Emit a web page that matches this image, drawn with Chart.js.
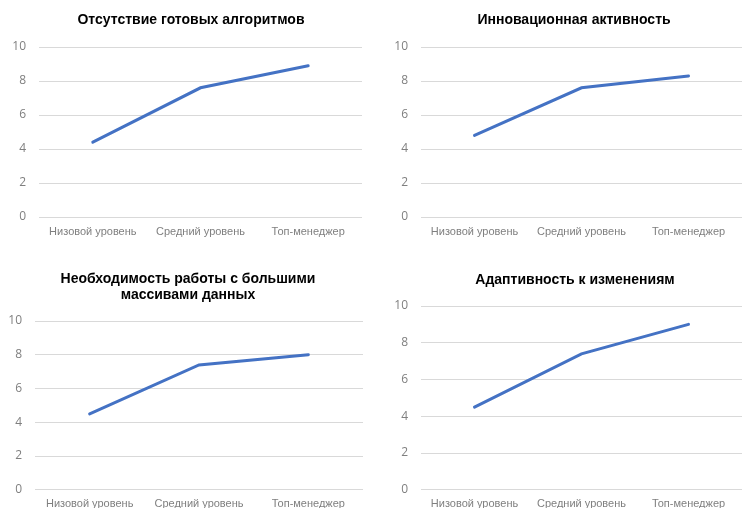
<!DOCTYPE html>
<html>
<head>
<meta charset="utf-8">
<script src="https://cdn.jsdelivr.net/npm/chart.js@4/dist/chart.umd.min.js"></script>
<style>
  body { margin: 0; background: #fff; }
  #wrap { position: relative; width: 742px; height: 508px; overflow: hidden; }
  .box { position: absolute; }
</style>
</head>
<body>
<div id="wrap">
  <div class="box" id="b1" style="left:0;top:0;width:371px;height:250px"><canvas id="c1"></canvas></div>
  <div class="box" id="b2" style="left:371px;top:0;width:371px;height:250px"><canvas id="c2"></canvas></div>
  <div class="box" id="b3" style="left:0;top:254px;width:371px;height:256px"><canvas id="c3"></canvas></div>
  <div class="box" id="b4" style="left:371px;top:254px;width:371px;height:256px"><canvas id="c4"></canvas></div>
</div>
<script>
const levels = ['Низовой уровень', 'Средний уровень', 'Топ-менеджер'];
const yTicks = [0, 2, 4, 6, 8, 10];

const titles = [
  ['Отсутствие готовых алгоритмов'],
  ['Инновационная активность'],
  ['Необходимость работы с большими', 'массивами данных'],
  ['Адаптивность к изменениям']
];

const noAlgorithms = [4.4, 7.6, 8.9];
const innovation = [4.8, 7.6, 8.3];
const bigData = [4.5, 7.4, 8.0];
const adaptivity = [4.5, 7.4, 9.0];

const seriesList = [noAlgorithms, innovation, bigData, adaptivity];

// layout per panel (title centre in canvas px, paddings, axis sizes)
const panels = [
  { id: 'c1', tx: 191, ty: 20, top: 47, yWidth: 39, right: 9, xHeight: 22, bottom: 11 },
  { id: 'c2', tx: 203, ty: 20, top: 47, yWidth: 50, right: 0, xHeight: 22, bottom: 11 },
  { id: 'c3', tx: 188, ty: 25, top: 67, yWidth: 35, right: 8, xHeight: 19, bottom: 0 },
  { id: 'c4', tx: 204, ty: 26, top: 52, yWidth: 50, right: 0, xHeight: 19, bottom: 0 }
];

// the built-in title can only centre over the whole box, so draw it here
const panelTitle = {
  id: 'panelTitle',
  afterDraw(chart, args, opts) {
    const c = chart.ctx;
    c.save();
    c.font = 'bold 14px "Liberation Sans", Arial, sans-serif';
    c.fillStyle = '#000';
    c.textAlign = 'center';
    c.textBaseline = 'middle';
    opts.lines.forEach((t, k) => c.fillText(t, opts.x, opts.y + k * 16));
    c.restore();
  }
};

panels.forEach((p, i) => {
  let ctx = document.getElementById(p.id).getContext('2d');
  new Chart(ctx, {
    type: 'line',
    data: {
      labels: levels,
      datasets: [{
        data: seriesList[i],
        borderColor: '#4472C4',
        backgroundColor: '#4472C4',
        borderWidth: 3,
        pointRadius: 0,
        tension: 0,
        borderCapStyle: 'round'
      }]
    },
    plugins: [panelTitle],
    options: {
      responsive: true,
      maintainAspectRatio: false,
      animation: false,
      layout: { padding: { left: 0, right: p.right, top: p.top, bottom: p.bottom } },
      plugins: {
        legend: { display: false },
        tooltip: { enabled: false },
        title: { display: false },
        panelTitle: { lines: titles[i], x: p.tx, y: p.ty }
      },
      scales: {
        x: {
          offset: true,
          grid: { display: false, drawTicks: false },
          border: { display: false },
          ticks: {
            color: '#7f7f7f',
            padding: 8,
            maxRotation: 0,
            autoSkip: false,
            font: { family: 'Liberation Sans, Arial, sans-serif', size: 11 }
          },
          afterFit: s => { s.height = p.xHeight; }
        },
        y: {
          min: 0,
          max: 10,
          afterBuildTicks: s => { s.ticks = yTicks.map(v => ({ value: v })); },
          grid: { color: '#d9d9d9', lineWidth: 1, drawTicks: false },
          border: { display: false },
          ticks: {
            color: '#7f7f7f',
            padding: 13,
            font: { family: 'Open Sans, sans-serif', size: 12 }
          },
          afterFit: s => { s.width = p.yWidth; }
        }
      }
    }
  });
});
</script>
</body>
</html>
